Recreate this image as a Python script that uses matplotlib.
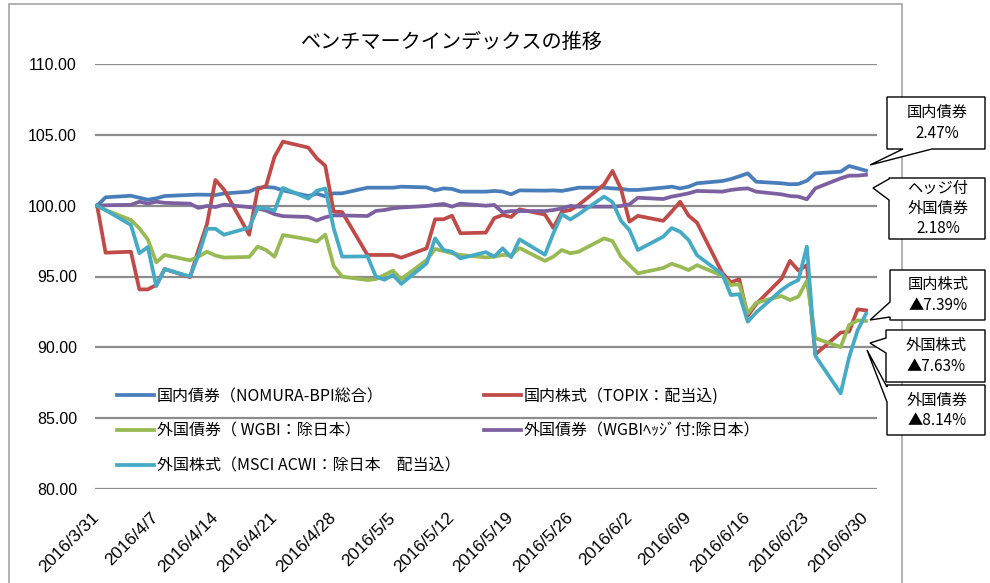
import matplotlib
matplotlib.use('Agg')
import matplotlib.pyplot as plt
import matplotlib.transforms as mtransforms
from matplotlib.patches import Polygon
import pandas as pd

plt.rcParams['font.family'] = ['Noto Sans CJK JP', 'DejaVu Sans']

# ---- data ----
dates = pd.bdate_range('2016-03-31', '2016-06-30')   # weekdays (66)
tick_dates = pd.date_range('2016-03-31', '2016-06-30', freq='7D')
tick_labels = [f"{d.year}/{d.month}/{d.day}" for d in tick_dates]

domestic_bond = [100.00, 100.59, 100.70, 100.56, 100.42, 100.52, 100.68, 100.76, 100.78, 100.77,
                 100.75, 100.86, 100.99, 101.25, 101.32, 101.27, 101.08, 100.68, 100.85, 100.66,
                 100.87, 100.87, 101.27, 101.27, 101.27, 101.27, 101.34, 101.29, 101.08, 101.22,
                 101.18, 100.99, 100.99, 101.04, 100.99, 100.80, 101.08, 101.06, 101.08, 101.04,
                 101.15, 101.27, 101.27, 101.22, 101.18, 101.11, 101.11, 101.27, 101.34, 101.22,
                 101.34, 101.58, 101.74, 101.88, 102.07, 102.28, 101.69, 101.58, 101.51, 101.53,
                 101.76, 102.28, 102.40, 102.80, 102.64, 102.47]
domestic_equity = [100.00, 96.68, 96.75, 94.09, 94.09, 94.40, 95.53, 94.95, 96.90, 98.70,
                   101.81, 101.15, 97.95, 101.15, 101.40, 103.46, 104.52, 104.10, 103.34, 102.82,
                   99.58, 99.55, 96.52, 96.52, 96.52, 96.52, 96.33, 96.99, 99.04, 99.04,
                   99.29, 98.05, 98.10, 99.12, 99.34, 99.20, 99.74, 99.37, 98.43, 99.58,
                   99.69, 100.05, 101.50, 102.45, 101.18, 98.87, 99.28, 98.93, 99.58, 100.28,
                   99.30, 98.80, 95.25, 94.59, 94.80, 92.22, 93.05, 94.85, 96.10, 95.42,
                   95.80, 89.50, 91.04, 91.11, 92.68, 92.61]
foreign_bond = [100.00, 99.69, 98.99, 98.40, 97.62, 96.00, 96.52, 96.14, 96.40, 96.75,
                96.48, 96.34, 96.38, 97.11, 96.87, 96.40, 97.93, 97.62, 97.46, 97.96,
                95.75, 94.99, 94.75, 94.82, 95.11, 95.41, 94.82, 96.16, 96.94, 96.80,
                96.64, 96.52, 96.35, 96.40, 96.52, 96.50, 97.01, 96.10, 96.40, 96.87,
                96.64, 96.75, 97.69, 97.50, 96.40, 95.81, 95.22, 95.60, 95.90, 95.70,
                95.45, 95.80, 95.05, 94.40, 94.45, 92.40, 93.15, 93.62, 93.34, 93.58,
                94.70, 90.64, 90.02, 91.58, 91.90, 91.86]
foreign_bond_hedged = [100.00, 100.03, 100.06, 100.28, 100.15, 100.28, 100.20, 100.14, 99.84, 99.98,
                       99.90, 100.07, 99.90, 99.81, 99.65, 99.40, 99.26, 99.20, 98.96, 99.18,
                       99.31, 99.31, 99.27, 99.63, 99.69, 99.81, 99.87, 99.98, 100.05, 100.12,
                       99.93, 100.14, 100.00, 100.05, 99.53, 99.62, 99.62, 99.62, 99.69, 99.81,
                       99.98, 99.93, 99.93, 99.93, 99.98, 100.09, 100.56, 100.47, 100.64, 100.75,
                       100.87, 101.04, 100.99, 101.11, 101.18, 101.22, 100.99, 100.80, 100.68, 100.64,
                       100.45, 101.22, 101.93, 102.12, 102.12, 102.18]
foreign_equity = [100.00, 99.69, 98.64, 96.64, 97.08, 94.32, 95.52, 95.00, 96.52, 98.37,
                  98.37, 97.95, 98.45, 99.84, 99.83, 99.65, 101.25, 100.50, 101.05, 101.22,
                  98.40, 96.40, 96.42, 94.99, 94.77, 95.11, 94.48, 95.93, 97.69, 96.87,
                  96.75, 96.28, 96.72, 96.40, 96.99, 96.36, 97.62, 96.54, 98.05, 99.40,
                  99.02, 99.40, 100.64, 100.25, 98.93, 98.28, 96.87, 97.81, 98.42, 98.16,
                  97.58, 96.50, 95.16, 93.69, 93.75, 91.81, 92.46, 94.05, 94.46, 94.75,
                  97.12, 89.40, 86.75, 89.30, 91.20, 92.37]

series_names = ['国内債券（NOMURA-BPI総合）', '国内株式（TOPIX：配当込)',
                '外国債券（ WGBI：除日本）', '外国債券（WGBIﾍｯｼﾞ付:除日本）',
                '外国株式（MSCI ACWI：除日本　配当込）']
series_values = [domestic_bond, domestic_equity, foreign_bond, foreign_bond_hedged, foreign_equity]
colors = ['#4A7EBB', '#BE4B48', '#98B954', '#7D60A0', '#46AAC5']

callout_texts = ['国内債券\n2.47%', 'ヘッジ付\n外国債券\n2.18%', '国内株式\n▲7.39%',
                 '外国株式\n▲7.63%', '外国債券\n▲8.14%']

# ---- figure ----
W, H = 990, 583
fig = plt.figure(figsize=(W / 100, H / 100), dpi=100)
fig.patch.set_facecolor('white')

def fx(px):
    return px / W

def fy(py):
    return 1 - py / H

ax = fig.add_axes([fx(95), fy(489), fx(877) - fx(95), fy(64) - fy(489)])
ax.set_facecolor('none')

lines = []
for name, vals, c in zip(series_names, series_values, colors):
    ln, = ax.plot(dates, vals, color=c, lw=2.7, solid_joinstyle='round', label=name, zorder=3)
    lines.append(ln)

num_font = ['Liberation Sans', 'DejaVu Sans']
start = dates[0]
ax.set_xlim(start - pd.Timedelta(days=0.25), start + pd.Timedelta(days=92.3))
ax.set_ylim(80, 110)
yt = [80, 85, 90, 95, 100, 105, 110]
ax.set_yticks(yt)
ax.set_yticklabels([f"{v:.2f}" for v in yt], family=num_font, fontsize=11.5)
ax.set_xticks(tick_dates)
ax.set_xticklabels(tick_labels, rotation=45, ha='right', va='center', rotation_mode='anchor',
                   family=num_font, fontsize=12.5)
offset = mtransforms.ScaledTranslation(7 / 100, 0, fig.dpi_scale_trans)
for lab in ax.get_xticklabels():
    lab.set_transform(lab.get_transform() + offset)
ax.tick_params(axis='y', length=0, pad=13)
ax.tick_params(axis='x', length=0, pad=19)
ax.grid(axis='y', color='#8C8C8C', lw=1.6, zorder=1)
ax.grid(axis='x', visible=False)
for s in ax.spines.values():
    s.set_visible(False)

# title
fig.text(fx(452), fy(42), 'ベンチマークインデックスの推移', ha='center', va='center', fontsize=14.5)

# legends (two columns)
h = lines
common = dict(loc='upper left', bbox_transform=fig.transFigure, frameon=False, fontsize=11.5,
              handlelength=2.3, handletextpad=0.2, labelspacing=1.12, borderpad=0, borderaxespad=0)
leg1 = ax.legend([h[0], h[2], h[4]], [series_names[0], series_names[2], series_names[4]],
                 bbox_to_anchor=(fx(117), fy(388)), **common)
ax.add_artist(leg1)
leg2 = ax.legend([h[1], h[3]], [series_names[1], series_names[3]],
                 bbox_to_anchor=(fx(484), fy(388)), **common)

# outer chart frame
frame = Polygon([(fx(9), fy(600)), (fx(9), fy(4)), (fx(902), fy(4)), (fx(902), fy(600))],
                closed=False, fill=False, edgecolor='#A6A6A6', lw=1.2, transform=fig.transFigure)
fig.add_artist(frame)

# callouts: box (x0,y0,x1,y1) in px from top-left, wedge side, base points, tip
def callout(box, side, b1, b2, tip, text):
    x0, y0, x1, y1 = box
    if side == 'left':
        pts = [(x0, y0), (x1, y0), (x1, y1), (x0, y1), (x0, b2), tip, (x0, b1)]
    else:  # bottom
        pts = [(x0, y0), (x1, y0), (x1, y1), (b2, y1), tip, (b1, y1), (x0, y1)]
    poly = Polygon([(fx(a), fy(b)) for a, b in pts], closed=True, facecolor='white',
                   edgecolor='black', lw=1.0, transform=fig.transFigure, zorder=5)
    fig.add_artist(poly)
    fig.text(fx((x0 + x1) / 2 + 1), fy((y0 + y1) / 2), text, ha='center', va='center',
             fontsize=11, linespacing=1.25, zorder=6)

callout((887, 97, 985, 149), 'bottom', 903, 932, (870, 165), callout_texts[0])
callout((889, 178, 985, 239), 'left', 179, 200, (873, 188), callout_texts[1])
callout((890, 270, 985, 320), 'left', 302, 317, (870, 320), callout_texts[2])
callout((886, 330, 985, 382), 'left', 338, 353, (870, 343), callout_texts[3])
callout((887, 385, 985, 435), 'left', 387, 402, (867, 350), callout_texts[4])

fig.savefig('out.png', dpi=100, facecolor='white')
